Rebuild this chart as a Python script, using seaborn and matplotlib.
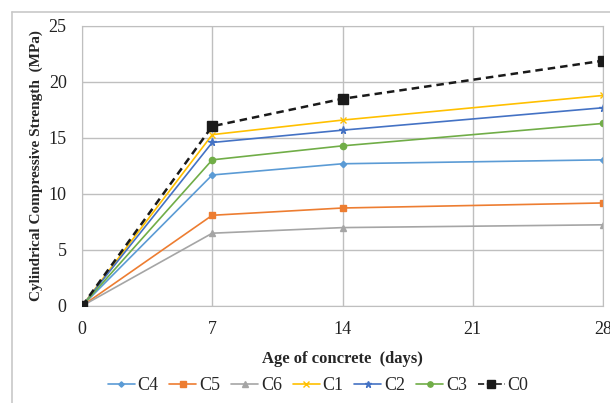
import pandas as pd
import seaborn as sns
from matplotlib import pyplot as plt
from matplotlib.lines import Line2D

days = [0, 7, 14, 28]
series_names = ["C4", "C5", "C6", "C1", "C2", "C3", "C0"]
c4 = [0, 11.7, 12.7, 13.05]
c5 = [0, 8.1, 8.75, 9.2]
c6 = [0, 6.5, 7.0, 7.25]
c1 = [0, 15.3, 16.6, 18.8]
c2 = [0, 14.6, 15.7, 17.7]
c3 = [0, 13.05, 14.3, 16.3]
c0 = [0, 16.05, 18.5, 21.9]

colors = ["#5B9BD5", "#ED7D31", "#A5A5A5", "#FFC000", "#4472C4", "#70AD47", "#1a1a1a"]
markers = ["D", "s", "^", "x", "*", "o", "s"]
msizes = [3.2, 4.5, 4.5, 4.5, 5.5, 4.5, 6.5]

rows = []
for name, vals in zip(series_names, [c4, c5, c6, c1, c2, c3, c0]):
    for d, v in zip(days, vals):
        rows.append({"day": d, "strength": v, "mix": name})
df = pd.DataFrame(rows)

sns.set_style("white")
plt.rcParams['font.family'] = ['Liberation Serif', 'DejaVu Serif']

fig = plt.figure(figsize=(6.10, 4.03), dpi=100)
ax = fig.add_axes([82 / 610, 1 - 306 / 403, (603 - 82) / 610, (306 - 26) / 403])

# seaborn won't mix filled and line markers, so draw with placeholders and swap after
sns.lineplot(data=df, x="day", y="strength", hue="mix", style="mix",
             hue_order=series_names, style_order=series_names,
             palette=colors, markers=["o"] * 7,
             dashes=[""] * 6 + [(3, 2)], ax=ax, legend=False, lw=1.2)

for ln, name, c, m, ms in zip(ax.get_lines(), series_names, colors, markers, msizes):
    ln.set_marker(m)
    ln.set_markersize(ms)
    ln.set_markeredgecolor(c)
    ln.set_markerfacecolor(c)
    ln.set_markeredgewidth(1.0)
    if name == "C0":
        ln.set_linewidth(1.8)
        ln.set_zorder(5)

ax.set_xlim(0, 28)
ax.set_ylim(0, 25)
ax.set_xticks([0, 7, 14, 21, 28])
ax.set_yticks(range(0, 26, 5))
ax.grid(True, color="#bfbfbf", lw=1)
for s in ax.spines.values():
    s.set_color("#bfbfbf")
ax.tick_params(axis="both", labelsize=13, length=0, pad=11, colors="#222222")
ax.set_xlabel("Age of concrete  (days)", fontsize=12, fontweight="bold", labelpad=9)
ax.set_ylabel("Cylindrical Compressive Strength  (MPa)", fontsize=11,
              fontweight="bold", labelpad=4)

handles = []
for name, c, m, ms in zip(series_names, colors, markers, msizes):
    handles.append(Line2D([0], [0], color=c, marker=m, markersize=ms * 0.85,
                          markerfacecolor=c, markeredgecolor=c,
                          ls="--" if name == "C0" else "-", lw=1.2))
fig.legend(handles, series_names, loc="center", bbox_to_anchor=(318 / 610, 1 - 386 / 403),
           ncol=7, frameon=False, fontsize=13, handlelength=1.5,
           columnspacing=0.6, handletextpad=0.15)

# outer chart frame (cropped on right and bottom)
fig.add_artist(Line2D([12 / 610, 1], [1 - 12 / 403, 1 - 12 / 403], color="#c8c8c8", lw=1.2))
fig.add_artist(Line2D([12 / 610, 12 / 610], [0, 1 - 12 / 403], color="#c8c8c8", lw=1.2))

fig.savefig("out.png", dpi=100)
